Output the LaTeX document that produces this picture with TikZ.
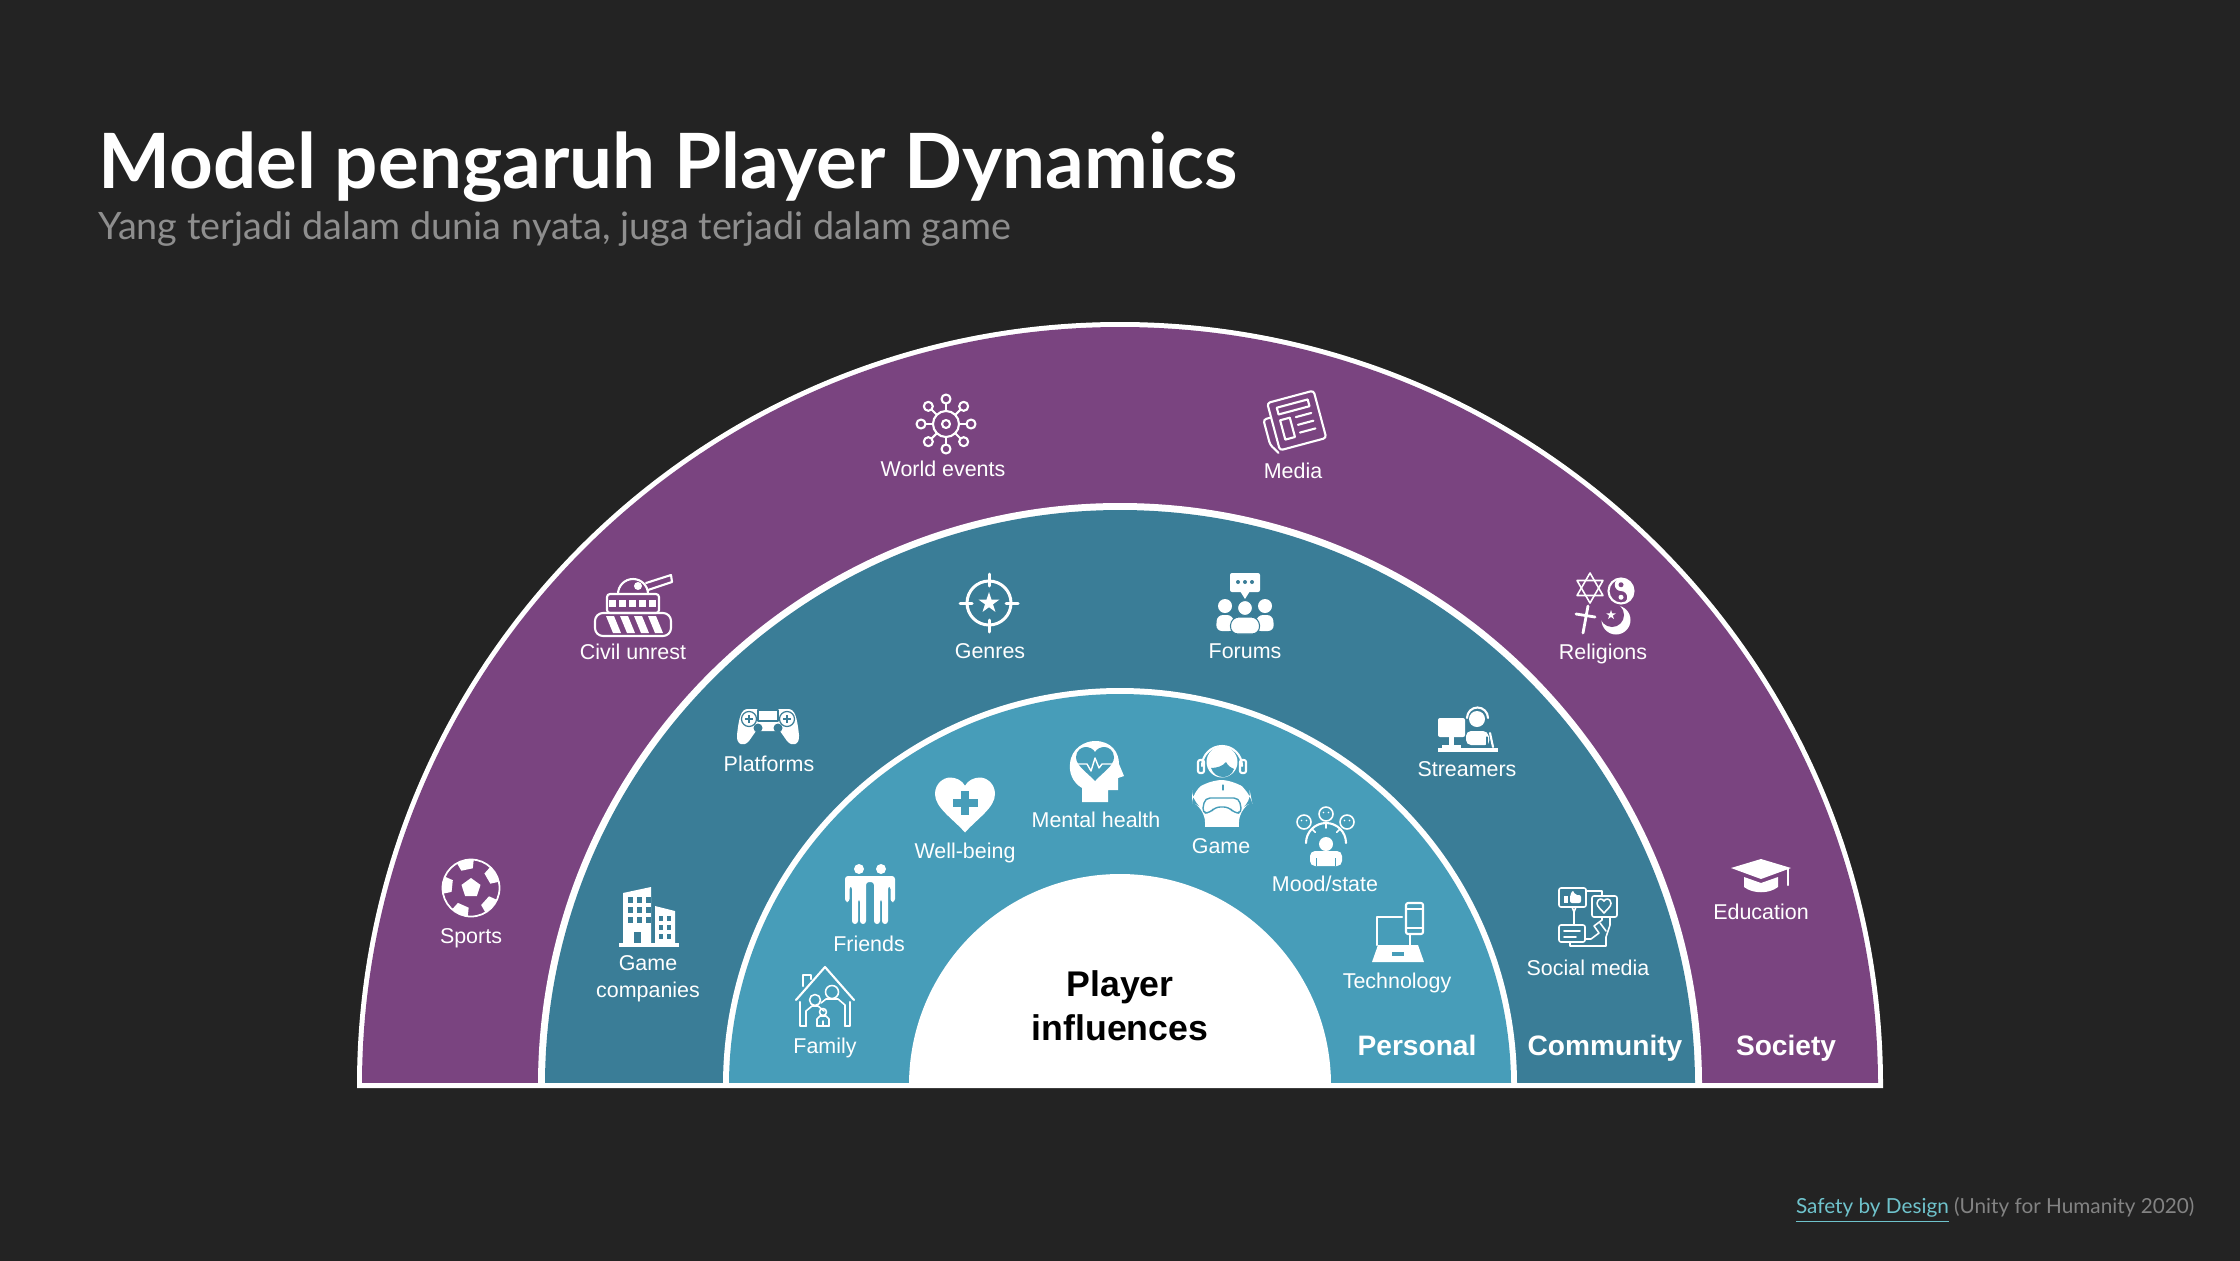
\documentclass[tikz,border=0pt]{standalone}
\usepackage{fontspec}
\setmainfont{Liberation Sans}
\newfontfamily\titlefont{Lato}
\usepackage{tikz}

\definecolor{bgdark}{HTML}{232323}
\definecolor{ringsociety}{HTML}{7A4480}
\definecolor{ringcommunity}{HTML}{3A7D97}
\definecolor{ringpersonal}{HTML}{479DB9}
\definecolor{subgray}{HTML}{8E8E8E}
\definecolor{linkteal}{HTML}{6FC3CC}

\newcommand{\heartpath}{(0,-10) .. controls (-4,-5) and (-10,-1) .. (-10,4) .. controls (-10,8) and (-7,10) .. (-5,10) .. controls (-3,10) and (-1,9) .. (0,7) .. controls (1,9) and (3,10) .. (5,10) .. controls (7,10) and (10,8) .. (10,4) .. controls (10,-1) and (4,-5) .. (0,-10) -- cycle}

\tikzset{
  icon/.style={x=0.1mm,y=0.1mm,line cap=round,line join=round},
  iconline/.style={draw=white,line width=0.6pt},
  iconthin/.style={draw=white,line width=0.45pt},
  itemtext/.style={text=white,font=\fontsize{6.1}{7.7}\selectfont,align=center,inner sep=0pt},
  ringtext/.style={text=white,font=\fontsize{8}{9}\selectfont\bfseries,inner sep=0pt,anchor=base}
}

\begin{document}
\begin{tikzpicture}

  \useasboundingbox (0,0) rectangle (22.4,12.6);
  \fill[bgdark] (-0.1,-0.1) rectangle (22.5,12.7);

  % Title
  \node[anchor=base west,inner sep=0pt,text=white,font=\titlefont\fontsize{21.7}{24}\selectfont\bfseries] (title) at (0.98,10.72) {Model pengaruh Player Dynamics};
  \node[anchor=base west,inner sep=0pt,text=subgray,font=\titlefont\fontsize{10.75}{14}\selectfont] (subtitle) at (0.98,10.21) {Yang terjadi dalam dunia nyata, juga terjadi dalam game};

  % Rings
  \fill[white] (3.57,1.72) -- (3.57,1.75) arc[start angle=180,end angle=0,radius=7.63] -- (18.83,1.72) -- cycle;
  \begin{scope}
    \clip (0,1.78) rectangle (22.4,12.6);
    \foreach \r/\c in {7.58/ringsociety,5.82/white,5.75/ringcommunity,3.97/white,3.91/ringpersonal,2.11/white}
      \fill[\c] (11.2,1.75) circle (\r);
  \end{scope}

  % Sports
  \begin{scope}[shift={(4.71,3.72)},icon]
    \draw[white,line width=0.5pt] (0,0) circle (28.5);
    \begin{scope}
      \clip (0,0) circle (28.5);
      \fill[white] (0,0) +(90:10) -- +(162:10) -- +(234:10) -- +(306:10) -- +(18:10) -- cycle;
      \foreach \a in {30,102,174,246,318}
        \fill[white] (\a:27) +(\a:10) -- +(\a+72:10) -- +(\a+144:10) -- +(\a+216:10) -- +(\a+288:10) -- cycle;
    \end{scope}
  \end{scope}
  \node[itemtext] (sports) at (4.71,3.22) {Sports};

  % Civil unrest
  \begin{scope}[shift={(6.33,6.54)},icon]
    \draw[iconline,rounded corners=0.8mm] (-38,-30) rectangle (38,-7);
    \foreach \x in {-27,-13,1,15}
      \fill[white] (\x,-10) -- (\x+8,-10) -- (\x+15,-27) -- (\x+7,-27) -- cycle;
    \draw[iconline,rounded corners=0.3mm] (-26,-7) rectangle (26,12);
    \foreach \x in {-21,-11,-1,9,19}
      \fill[white] (\x-3,-1) rectangle (\x+4,6);
    \draw[iconline] (-15,12) arc[start angle=180,end angle=0,radius=15];
    \fill[white] (5,20) circle (4);
    \draw[iconline] (13,23) -- (38,31) -- (39,24) -- (15,16);
  \end{scope}
  \node[itemtext] (civilunrest) at (6.33,6.08) {Civil unrest};

  % World events
  \begin{scope}[shift={(9.46,8.36)},icon]
    \draw[iconline] (0,0) circle (13);
    \draw[iconline] (0,0) circle (4);
    \foreach \a in {0,45,...,315} {
      \draw[iconline] (\a:13) -- (\a:20);
      \draw[iconline] (\a:25) circle (4.5);
    }
  \end{scope}
  \node[itemtext] (worldevents) at (9.43,7.91) {World events};

  % Media
  \begin{scope}[shift={(12.93,8.38)},rotate=15,icon]
    \draw[iconline,rounded corners=0.3mm] (-20,-24) -- (-20,25) -- (28,25) -- (28,-24) -- cycle;
    \draw[iconline,rounded corners=0.3mm] (-20,10) -- (-28,10) -- (-28,-16) -- (-22,-26);
    \draw[iconline] (-12,11) rectangle (20,18);
    \draw[iconline] (-12,-15) rectangle (-2,5);
    \foreach \y in {4,-4,-12}
      \draw[iconline] (4,\y) -- (20,\y);
  \end{scope}
  \node[itemtext] (media) at (12.93,7.89) {Media};

  % Religions
  \begin{scope}[shift={(16.04,6.57)},icon]
    \draw[iconthin] (-14,15) +(90:15) -- +(210:15) -- +(330:15) -- cycle;
    \draw[iconthin] (-14,15) +(270:15) -- +(30:15) -- +(150:15) -- cycle;
    \draw[iconline] (17,12) circle (12.5);
    \fill[white] (17,24.5) arc[start angle=90,end angle=-90,radius=12.5] arc[start angle=-90,end angle=90,radius=6.25] arc[start angle=270,end angle=90,radius=6.25] -- cycle;
    \fill[ringsociety] (17,18.25) circle (2.5);
    \fill[white] (17,5.75) circle (2.5);
    \draw[white,line width=0.8pt] (-16,-3) -- (-21,-30);
    \draw[white,line width=0.8pt] (-28,-11) -- (-9,-14);
    \fill[white] (12,-17) circle (14.5);
    \fill[ringsociety] (8,-12) circle (12);
    \fill[white] (7,-12) +(90:5) -- +(234:5) -- +(18:5) -- +(162:5) -- +(306:5) -- cycle;
  \end{scope}
  \node[itemtext] (religions) at (16.03,6.06) {Religions};

  % Education
  \begin{scope}[shift={(17.61,3.85)},icon]
    \fill[white] (0,16) -- (30,7) -- (0,-4) -- (-30,7) -- cycle;
    \fill[white] (-17,-2) -- (0,-8) -- (17,-2) -- (17,-12) .. controls (8,-19) and (-8,-19) .. (-17,-12) -- cycle;
    \draw[iconline] (27,6) -- (27,-10);
  \end{scope}
  \node[itemtext] (education) at (17.61,3.48) {Education};

  % Game companies
  \begin{scope}[shift={(6.49,3.43)},icon]
    \fill[white] (-30,-30) rectangle (30,-26);
    \fill[white] (-26,-26) -- (-26,24) -- (2,30) -- (2,-26) -- cycle;
    \fill[white] (6,-26) -- (6,11) -- (26,6) -- (26,-26) -- cycle;
    \foreach \x in {-21,-12,-3}
      \foreach \y in {14,4,-6}
        \fill[ringcommunity] (\x,\y) rectangle (\x+5,\y+6);
    \fill[ringcommunity] (-15,-26) rectangle (-8,-15);
    \foreach \x in {10,18}
      \foreach \y in {-4,-13,-22}
        \fill[ringcommunity] (\x,\y) rectangle (\x+4,\y+5);
  \end{scope}
  \node[itemtext] (gamecompanies) at (6.48,2.81) {Game\\companies};

  % Platforms
  \begin{scope}[shift={(7.68,5.33)},icon]
    \fill[white] (-20,18) -- (20,18) .. controls (27,18) and (29,10) .. (31,-8) .. controls (32,-18) and (24,-20) .. (19,-14) -- (12,-4) -- (-12,-4) -- (-19,-14) .. controls (-24,-20) and (-32,-18) .. (-31,-8) .. controls (-29,10) and (-27,18) .. (-20,18) -- cycle;
    \draw[ringcommunity,line width=0.35pt] (-10,6) rectangle (10,17);
    \foreach \x in {-19,19} {
      \draw[ringcommunity,line width=0.35pt] (\x,8) circle (7.5);
      \fill[ringcommunity] (\x-4,7) rectangle (\x+4,9);
      \fill[ringcommunity] (\x-1,4) rectangle (\x+1,12);
    }
    \fill[ringcommunity] (-10,-1) circle (4.5);
    \fill[ringcommunity] (10,-1) circle (4.5);
  \end{scope}
  \node[itemtext] (platforms) at (7.69,4.96) {Platforms};

  % Genres
  \begin{scope}[shift={(9.89,6.57)},icon]
    \draw[white,line width=0.85pt] (0,0) circle (22);
    \foreach \a in {0,90,180,270}
      \draw[white,line width=0.85pt] (\a:17) -- (\a:29);
    \fill[white] (0,0) +(90:11) -- +(234:11) -- +(18:11) -- +(162:11) -- +(306:11) -- cycle;
  \end{scope}
  \node[itemtext] (genres) at (9.90,6.09) {Genres};

  % Forums
  \begin{scope}[shift={(12.45,6.57)},icon]
    \fill[white,rounded corners=0.2mm] (-15,11) rectangle (15,30);
    \fill[white] (-5,12) -- (5,12) -- (0,4) -- cycle;
    \foreach \x in {-7,0,7}
      \fill[ringcommunity] (\x,21) circle (2);
    \fill[white] (-20,-3) circle (7);
    \fill[white] (20,-3) circle (7);
    \fill[white,rounded corners=0.6mm] (-29,-28) -- (-28,-12) -- (-12,-12) -- (-10,-28) -- cycle;
    \fill[white,rounded corners=0.6mm] (29,-28) -- (28,-12) -- (12,-12) -- (10,-28) -- cycle;
    \fill[white,draw=ringcommunity,line width=0.3pt] (0,-5) circle (7.5);
    \fill[white,draw=ringcommunity,line width=0.3pt,rounded corners=0.8mm] (-15,-31) -- (-14,-14) -- (14,-14) -- (15,-31) -- cycle;
  \end{scope}
  \node[itemtext] (forums) at (12.45,6.09) {Forums};

  % Streamers
  \begin{scope}[shift={(14.68,5.32)},icon]
    \fill[white] (-30,-24) rectangle (30,-20);
    \fill[white,rounded corners=0.2mm] (-30,-9) rectangle (-3,10);
    \fill[white] (-19,-19) rectangle (-14,-9);
    \fill[white] (-26,-20) rectangle (-7,-17);
    \fill[white] (9,9) circle (8);
    \draw[iconline] (-1,10) arc[start angle=180,end angle=0,radius=10.5];
    \fill[white,rounded corners=0.5mm] (-2,-17) -- (-2,-3) -- (20,-3) -- (22,-17) -- cycle;
    \draw[ringcommunity,line width=0.3pt] (19,-17) -- (19,-9);
    \draw[iconline] (22,-5) -- (25,-19);
  \end{scope}
  \node[itemtext] (streamers) at (14.67,4.91) {Streamers};

  % Social media
  \begin{scope}[shift={(15.88,3.43)},icon]
    \draw[iconthin,rounded corners=0.2mm] (-29,29) rectangle (-2,10);
    \draw[iconthin] (-16,10) -- (-14,5) -- (-12,10);
    \fill[white] (-24,14) rectangle (-20,21);
    \fill[white,rounded corners=0.2mm] (-18,14) -- (-18,22) -- (-15,27) -- (-13,22) -- (-7,22) -- (-7,14) -- cycle;
    \draw[iconthin] (-2,26) -- (14,26) -- (14,21);
    \draw[iconthin,rounded corners=0.2mm] (4,21) rectangle (29,0);
    \begin{scope}[shift={(16,11)},scale=0.7]
      \draw[iconthin] \heartpath;
    \end{scope}
    \draw[iconthin] (-14,5) -- (-14,-8);
    \draw[iconthin,rounded corners=0.2mm] (-29,-8) rectangle (-3,-25);
    \draw[iconthin] (-24,-14) -- (-8,-14);
    \draw[iconthin] (-24,-20) -- (-12,-20);
    \draw[iconthin] (-18,-25) -- (-18,-29) -- (18,-29) -- (18,-20) -- (22,-8) -- (22,0);
    \draw[iconthin] (14,0) -- (14,-3) -- (6,-9) -- (11,-16) -- (3,-22) -- (-3,-22);
    \draw[iconthin] (12,-6) -- (18,-14);
  \end{scope}
  \node[itemtext] (socialmedia) at (15.88,2.92) {Social media};

  % Family
  \begin{scope}[shift={(8.25,2.63)},icon]
    \draw[iconline] (-25,-5) -- (-25,-29) -- (-19,-29);
    \draw[iconline] (25,-5) -- (25,-29) -- (20,-29);
    \draw[iconline] (-29,-3) -- (0,30) -- (29,-3);
    \draw[iconline] (-22,11) -- (-22,22) -- (-14,22) -- (-14,18);
    \draw[iconthin] (7,5) circle (6.5);
    \draw[iconthin] (-10,-3) circle (5.5);
    \draw[iconthin] (-2,-15) circle (3.5);
    \draw[iconthin] (-19,-29) -- (-19,-14) -- (-13,-9) -- (-7,-9) -- (-1,-14);
    \draw[iconthin] (20,-29) -- (20,-8) -- (13,-2) -- (1,-2) -- (-4,-6);
    \draw[iconthin] (-8,-29) -- (-8,-22) -- (-5,-19) -- (1,-19) -- (4,-22) -- (4,-29);
    \draw[iconthin] (-8,-29) -- (4,-29);
    \draw[iconthin] (-2,-29) -- (-2,-24);
  \end{scope}
  \node[itemtext] (family) at (8.25,2.12) {Family};

  % Friends
  \begin{scope}[shift={(8.70,3.66)},icon]
    \fill[white] (-11,25) circle (5);
    \fill[white] (11,25) circle (5);
    \fill[white,rounded corners=0.3mm] (-25,-8) -- (-25,18) -- (25,18) -- (25,-8) -- (20.5,-8) -- (20.5,8) -- (18,8) -- (18,-30) -- (12,-30) -- (12,-5) -- (10,-5) -- (10,-30) -- (4,-30) -- (4,12) -- (-4,12) -- (-4,-30) -- (-10,-30) -- (-10,-5) -- (-12,-5) -- (-12,-30) -- (-18,-30) -- (-18,8) -- (-20.5,8) -- (-20.5,-8) -- cycle;
  \end{scope}
  \node[itemtext] (friends) at (8.69,3.16) {Friends};

  % Well-being
  \begin{scope}[shift={(9.65,4.55)},icon]
    \begin{scope}[xscale=3,yscale=2.75]
      \fill[white] \heartpath;
    \end{scope}
    \fill[ringpersonal] (-12.5,-2) rectangle (12.5,6);
    \fill[ringpersonal] (-4,-10) rectangle (4,14);
  \end{scope}
  \node[itemtext] (wellbeing) at (9.65,4.07) {Well-being};

  % Mental health
  \begin{scope}[shift={(10.97,4.88)},icon]
    \fill[white] (-15,-30) -- (-15,-16) .. controls (-25,-10) and (-28,0) .. (-27,8) .. controls (-26,24) and (-12,31) .. (-2,31) .. controls (14,31) and (22,20) .. (22,8) -- (27,-4) -- (21,-6) -- (21,-18) -- (11,-18) -- (11,-30) -- cycle;
    \begin{scope}[shift={(-2,8)},xscale=1.9,yscale=1.7]
      \fill[ringpersonal] \heartpath;
    \end{scope}
    \draw[white,line width=0.4pt] (-21,8) -- (-10,8) -- (-6,1) -- (-2,14) -- (2,4) -- (5,8) -- (17,8);
  \end{scope}
  \node[itemtext] (mentalhealth) at (10.96,4.40) {Mental health};

  % Game
  \begin{scope}[shift={(12.21,4.74)},icon]
    \draw[iconline] (-19,20) arc[start angle=180,end angle=0,radius=20];
    \draw[iconline,rounded corners=0.2mm] (-23,13) rectangle (-17,26);
    \draw[iconline,rounded corners=0.2mm] (19,13) rectangle (25,26);
    \fill[white] (1,24) circle (15.5);
    \fill[ringpersonal] (-10,18) .. controls (-4,18) and (2,20) .. (5,24) .. controls (7,20) and (10,18) .. (13,17) .. controls (11,11) and (6,9) .. (2,9) .. controls (-3,9) and (-8,12) .. (-10,18) -- cycle;
    \fill[white,rounded corners=1.2mm] (-11,6) -- (12,6) -- (29,-6) -- (31,-16) -- (18,-24) -- (18,-36) -- (-16,-36) -- (-16,-24) -- (-29,-16) -- (-29,-6) -- cycle;
    \fill[white] (-16,-41) rectangle (18,-28);
    \draw[ringpersonal,line width=0.4pt,rounded corners=0.5mm] (-16,-12) -- (18,-12) -- (21,-27) -- (13,-27) -- (8,-21) -- (-6,-21) -- (-11,-27) -- (-19,-27) -- cycle;
    \draw[ringpersonal,line width=0.3pt] (2,1) -- (2,-4);
  \end{scope}
  \node[itemtext] (gamelabel) at (12.21,4.14) {Game};

  % Mood/state
  \begin{scope}[shift={(13.26,4.24)},icon]
    \foreach \x/\y in {-22/14,0/22,21/14} {
      \draw[iconthin] (\x,\y) circle (7);
      \fill[white] (\x-2.5,\y+1.5) circle (0.9);
      \fill[white] (\x+2.5,\y+1.5) circle (0.9);
    }
    \draw[iconline] (-20,-7) arc[start angle=180,end angle=0,radius=20];
    \foreach \a in {135,90,45}
      \draw[iconthin] (0,-7) +(\a:20) -- +(\a:15);
    \fill[white] (0,-8) circle (7);
    \fill[white,rounded corners=0.5mm] (-16,-30) -- (-16,-15) -- (16,-15) -- (16,-30) -- cycle;
    \fill[ringpersonal] (-10,-30) rectangle (-9,-22);
    \fill[ringpersonal] (9,-30) rectangle (10,-22);
  \end{scope}
  \node[itemtext] (moodstate) at (13.25,3.76) {Mood/state};

  % Technology
  \begin{scope}[shift={(13.98,3.28)},icon]
    \draw[iconline] (4,15) -- (-21,15) -- (-21,-13);
    \draw[iconline] (12,-3) -- (12,-13);
    \draw[iconline,rounded corners=0.2mm] (8,-2) rectangle (25,29);
    \draw[iconthin] (8,23) -- (25,23);
    \draw[iconthin] (8,4) -- (25,4);
    \fill[white] (-20,-13) -- (20,-13) -- (26,-30) -- (-26,-30) -- cycle;
    \fill[ringpersonal] (-6,-24) rectangle (6,-20);
  \end{scope}
  \node[itemtext] (technology) at (13.97,2.77) {Technology};

  % Ring names
  \node[ringtext] (personal) at (14.17,2.05) {Personal};
  \node[ringtext] (community) at (16.05,2.05) {Community};
  \node[ringtext] (society) at (17.86,2.05) {Society};

  % Centre
  \node[align=center,inner sep=0pt,font=\fontsize{10.15}{12.6}\selectfont\bfseries,text=black] (influences) at (11.20,2.54) {Player\\influences};

  % Source
  \node[anchor=base east,inner sep=0pt,font=\titlefont\fontsize{5.9}{9}\selectfont,text=subgray!110] (source) at (21.95,0.47) {\textcolor{linkteal}{\underline{Safety by Design}} (Unity for Humanity 2020)};

\end{tikzpicture}
\end{document}
